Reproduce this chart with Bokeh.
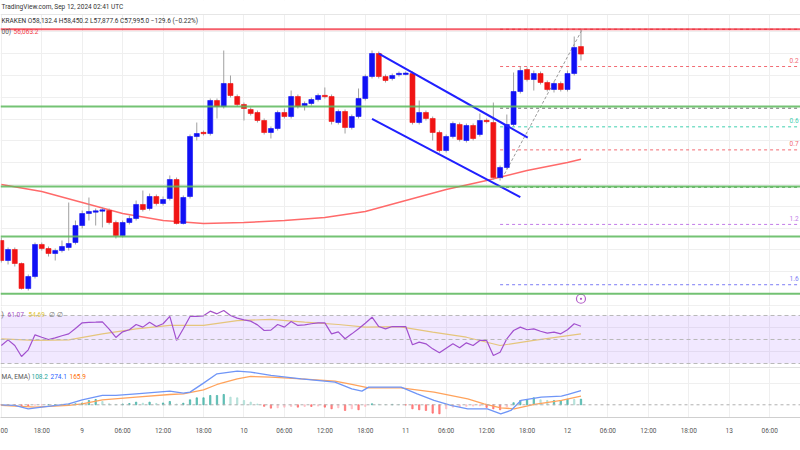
from bokeh.plotting import figure
from bokeh.layouts import column
from bokeh.models import Range1d, FixedTicker, Span, Label, BoxAnnotation, ColumnDataSource
from bokeh.core.properties import value
from bokeh.embed import file_html
from bokeh.resources import INLINE

# ---------------- data (hours from Sep 9 00:00 UTC, 1h candles) ----------------
hours = list(range(-12, 75))
opens = [54574, 54207, 54409, 54152, 53693, 53913, 54501, 54427, 54335, 54390, 54446, 54537,
         54849, 55069, 55097, 55115, 55124, 54904, 54666, 54904, 54978, 55235, 55161, 55381,
         55253, 55345, 55693, 54886, 55381, 56482, 56556, 56537, 57143, 57033, 57455, 57216,
         57070, 56978, 56923, 56776, 56556, 56629, 56923, 56849, 57216, 57051, 57088, 57161,
         57235, 57216, 56739, 56941, 56648, 56849, 57180, 57583, 58005, 57583, 57547, 57620,
         57629, 57638, 56739, 56923, 56813, 56556, 56225, 56482, 56703, 56409, 56684, 56519,
         56776, 56739, 55730, 55914, 56703, 57308, 57712, 57528, 57638, 57473, 57345, 57455,
         57345, 57638, 58132.4]
highs = [54629, 54446, 54446, 54170, 53950, 54537, 54537, 54464, 54427, 54574, 55271, 54941,
         55124, 55363, 55161, 55180, 55161, 54941, 54941, 55033, 55308, 55491, 55436, 55418,
         55381, 55767, 55730, 55400, 56519, 56739, 56592, 57180, 57180, 58060, 57602, 57253,
         57106, 57015, 56959, 56813, 56666, 56959, 56996, 57326, 57253, 57125, 57198, 57271,
         57382, 57253, 56978, 56978, 56886, 57363, 57620, 58060, 58042, 57620, 57638, 57675,
         57675, 57675, 57143, 56959, 56849, 56592, 56519, 56758, 56739, 56721, 56721, 56904,
         56813, 57106, 55950, 56886, 57657, 57767, 57749, 57693, 57675, 57510, 57492, 57492,
         57693, 58317, 58450.2]
lows = [54170, 54134, 54097, 53675, 53656, 53877, 54390, 54280, 54207, 54354, 54390, 54501,
        54794, 54941, 54849, 54813, 54868, 54611, 54629, 54868, 54941, 55106, 55124, 55216,
        55216, 55308, 54868, 54868, 55345, 56409, 56501, 56501, 56813, 56996, 57198, 57033,
        56776, 56868, 56739, 56519, 56446, 56592, 56813, 56813, 56996, 56959, 57051, 57125,
        57180, 56703, 56703, 56537, 56611, 56813, 57143, 57547, 57547, 57473, 57510, 57583,
        57602, 56703, 56703, 56776, 56409, 56189, 56189, 56446, 56391, 56372, 56409, 56482,
        56721, 55693, 55675, 55877, 56666, 57271, 57492, 57326, 57437, 57308, 57290, 57308,
        57308, 57602, 57877.6]
closes = [54207, 54409, 54152, 53693, 53913, 54501, 54427, 54335, 54390, 54464, 54519, 54849,
          55069, 55106, 55115, 55134, 54904, 54666, 54904, 54978, 55235, 55143, 55381, 55253,
          55326, 55693, 54886, 55363, 56482, 56537, 56537, 57143, 57033, 57455, 57235, 57070,
          56996, 56904, 56776, 56556, 56629, 56923, 56849, 57216, 57033, 57088, 57161, 57235,
          57216, 56758, 56941, 56648, 56849, 57180, 57583, 58005, 57583, 57510, 57602, 57638,
          57638, 56739, 56923, 56813, 56556, 56225, 56482, 56721, 56427, 56684, 56446, 56776,
          56758, 55730, 55914, 56703, 57308, 57693, 57528, 57638, 57473, 57345, 57455, 57345,
          57638, 58116, 57995.0]

sma_hours = [-12, -6, 0, 6, 12, 18, 24, 30, 36, 42, 48, 54, 60, 66, 72, 74]
sma_values = [55602, 55473, 55271, 55069, 54941, 54886, 54904, 54941, 54996, 55106,
              55308, 55510, 55675, 55859, 56005, 56063.2]

support_levels = [57033, 55565, 54648, 53596]
resistance_level = 58450.2

channel_upper_h = [44.0, 66.1]
channel_upper_p = [58005, 56464]
channel_lower_h = [43.0, 65.0]
channel_lower_p = [56807, 55369]

fib_high = 58450.2
fib_low = 55553
fib_start_h = 62
fib_levels = [0, 0.236, 0.5, 0.618, 0.764, 1, 1.236, 1.618]
fib_names = ["0", "0.2", "0.5", "0.6", "0.7", "1", "1.2", "1.6"]
fib_colors = ["#c62828", "#f26b73", "#6d6d6d", "#3fd0b0", "#f26b73", "#3c8f3c", "#c27ce8", "#7c7cf5"]
fib_label_shown = [False, True, False, True, True, False, True, True]
trend_h = [62.3, 74.2]
trend_p = [55712, 58450.2]

rsi_values = [45, 49.7, 45, 35.8, 41.4, 53.9, 51.9, 50, 51.4, 53.1, 54.7, 59.2,
              63.9, 64.2, 64.4, 64.7, 58.6, 51.7, 56.4, 58.1, 62.5, 60.3, 64.4, 60.8,
              63.1, 69.2, 49.2, 58.9, 69.2, 69.2, 69.7, 73.6, 71.4, 74.2, 70, 67.8,
              66.4, 65.3, 62.2, 57.5, 57.8, 62.5, 60.3, 65, 61.7, 62.2, 63.1, 63.9,
              63.9, 54.7, 56.4, 50.6, 54.7, 58.9, 63.6, 68.6, 60.8, 58.9, 60.8, 60.8,
              60.8, 45.6, 47.8, 46.4, 42.2, 38.9, 42.8, 46.4, 43.1, 47.2, 45, 49.2,
              49.2, 36.7, 39.4, 50.6, 57.5, 60.3, 58.1, 58.9, 56.9, 55.3, 56.1, 54.7,
              58.1, 63.1, 61.07]
rsi_ma_hours = [-12, -7, -2, 3, 8, 13, 18, 23, 28, 33, 38, 42, 47, 52, 57, 62, 67, 74]
rsi_ma_values = [50.6, 49.2, 49.7, 54.7, 58.9, 61.7, 61.7, 65.8, 66.7, 64.4, 62.5, 60.3,
                 60.8, 56.1, 51.9, 45, 49.2, 54.69]

macd_hours = [-12, -10, -8, -6, -2, 0, 3, 5, 8, 13, 15, 16, 18, 20, 23, 25, 28, 32.5, 37.5,
              40, 41.5, 42.5, 47.3, 49.7, 52.2, 54.7, 57.2, 60.1, 62.1, 63.6, 65.1, 68.1, 71.1,
              72.1, 74]
macd_values = [0, -13, -77, -45, 19, 96, 179, 179, 211, 262, 224, 243, 416, 595, 646, 627, 563,
               499, 435, 307, 262, 339, 339, 211, 83, -13, -77, -77, -173, -109, 83, 147, 166,
               198, 274.1]
signal_hours = [-12, -7, -2, 0, 3, 8, 13, 15, 18, 20, 23, 25, 28, 32.5, 37.5, 40, 42.5, 47.3,
                52.2, 57.2, 59.6, 62.1, 64.1, 67.1, 71.1, 74]
signal_values = [-13, -45, -13, 19, 96, 147, 198, 211, 288, 390, 499, 544, 531, 499, 454, 390,
                 326, 326, 243, 115, 19, -58, -77, 6, 83, 165.9]
hist_values = [-5, -8, -10, -15, -20, -8, -3, 3, 5, 8, 12, 20,
               35, 83, 102, 64, 20, 8, 15, 25, 51, 30, 51, 25, 35, 64, 15, 30, 96, 134, 134, 179,
               179, 198, 147, 134, 83, 51, 15, -30, -64, -58, -45, -32, -45, -32, -32, -25, -45,
               -77, -58, -109, -77, -96, -32, 20, 10, 5, 8, 5,
               -5, -77, -96, -109, -160, -173, -77, -45, -40, -30, -25, -20, -50, -77, -96, -40,
               40, 83, 102, 134, 96, 83, 83, 83, 109, 102, 108.2]

tick_hours = [-12, -6, 0, 6, 12, 18, 24, 30, 36, 42, 48, 54, 60, 66, 72, 78, 84, 90, 96, 102]
tick_labels = ["00", "18:00", "9", "06:00", "12:00", "18:00", "10", "06:00", "12:00", "18:00", "11",
               "06:00", "12:00", "18:00", "12", "06:00", "12:00", "18:00", "13", "06:00"]

price_grid = [53600, 54000, 54400, 54800, 55200, 55600, 56000, 56400, 56800, 57200, 57600,
              58000, 58400]

# ---------------- styling ----------------
FONT = "Roboto"
UP = "#1010f5"
DOWN = "#f01414"
GRID = "#efefef"
W = 800
xr = Range1d(-12.12, 106.57)
vgrid = list(range(-12, 108, 6))


def base(height, yr, bottom=0):
    f = figure(width=W, height=height, x_range=xr, y_range=yr, output_backend="svg",
               toolbar_location=None, min_border=0, min_border_bottom=bottom)
    f.outline_line_color = None
    f.yaxis.visible = False
    f.xgrid.ticker = FixedTicker(ticks=vgrid)
    f.xgrid.grid_line_color = GRID
    f.ygrid.grid_line_color = GRID
    f.background_fill_color = "white"
    return f


# ---------------- main price pane ----------------
p = base(306, Range1d(53363, 58978))
p.xaxis.visible = False
p.ygrid.ticker = FixedTicker(ticks=price_grid)

p.add_layout(BoxAnnotation(bottom=58721, fill_color="white", fill_alpha=1, line_alpha=0, level="glyph"))
p.add_layout(Span(location=58721, dimension="width", line_color="#e6e6e6", line_width=1))
p.add_layout(Span(location=53372, dimension="width", line_color="#e0e0e0", line_width=1))

for lv in support_levels:
    p.add_layout(Span(location=lv, dimension="width", line_color="#5cb85c", line_width=2, line_alpha=0.85))
p.add_layout(Span(location=resistance_level, dimension="width", line_color="#f23645",
                  line_width=2, line_alpha=0.8))

# fib retracement
fib_prices = [fib_high - lv * (fib_high - fib_low) for lv in fib_levels]
p.segment(x0=[fib_start_h] * len(fib_prices), x1=[110] * len(fib_prices), y0=fib_prices, y1=fib_prices,
          line_color=fib_colors, line_width=1, line_dash="3 3")
lab_x = [104.95 for s in fib_label_shown if s]
lab_y = [fp + 115 for fp, s in zip(fib_prices, fib_label_shown) if s]
lab_t = [n for n, s in zip(fib_names, fib_label_shown) if s]
lab_c = [c for c, s in zip(fib_colors, fib_label_shown) if s]
p.text(x=lab_x, y=lab_y, text=lab_t, text_color=lab_c, text_font=value(FONT),
       text_font_size=value("6.5px"), text_baseline="middle", text_align="left")
p.line(trend_h, trend_p, line_color="#9a9a9a", line_width=1, line_dash="3 2")

# SMA 100
p.line(sma_hours, sma_values, line_color="#ff5a5a", line_width=1.5, line_alpha=0.9)

# candles
colors, tops, bottoms = [], [], []
for o, c in zip(opens, closes):
    colors.append(UP if c >= o else DOWN)
    hi_b, lo_b = max(o, c), min(o, c)
    if hi_b - lo_b < 25:
        mid = (hi_b + lo_b) / 2
        hi_b, lo_b = mid + 12, mid - 12
    tops.append(hi_b)
    bottoms.append(lo_b)
src = ColumnDataSource(dict(h=hours, o=opens, hi=highs, lo=lows, c=closes,
                            top=tops, bottom=bottoms, color=colors))
p.segment(x0="h", y0="lo", x1="h", y1="hi", source=src, line_color="#a0a0a0", line_width=1)
p.vbar(x="h", width=0.74, top="top", bottom="bottom", source=src,
       fill_color="color", line_color="color", line_width=0.6)

# channel
p.line(channel_upper_h, channel_upper_p, line_color="#2020ff", line_width=2)
p.line(channel_lower_h, channel_lower_p, line_color="#2020ff", line_width=2)

# event marker
p.scatter(x=[hours[-1]], y=[53505], marker="circle_dot", size=9, fill_color="white",
          line_color="#b35cc7", line_width=1.2)

# header texts
p.add_layout(Label(x=1, y=58850, x_units="screen", text="TradingView.com, Sep 12, 2024 02:41 UTC",
                   text_font=FONT, text_font_size="6.5px", text_color="#333333", text_baseline="middle"))
p.add_layout(Label(x=1, y=58593, x_units="screen",
                   text="KRAKEN  O58,132.4  H58,450.2  L57,877.6  C57,995.0  \u2212129.6 (\u22120.22%)",
                   text_font=FONT, text_font_size="6.5px", text_color="#333333", text_baseline="middle"))
p.add_layout(Label(x=1, y=58409, x_units="screen", text="00)", text_font=FONT,
                   text_font_size="6.5px", text_color="#555555", text_baseline="middle"))
p.add_layout(Label(x=13, y=58409, x_units="screen", text="56,063.2", text_font=FONT,
                   text_font_size="6.5px", text_color="#f23645", text_baseline="middle"))

# ---------------- RSI pane ----------------
r = base(62, Range1d(25.83, 77.5))
r.xaxis.visible = False
r.ygrid.ticker = FixedTicker(ticks=[40, 60])
r.add_layout(BoxAnnotation(bottom=30, top=70, fill_color="#8e44ff", fill_alpha=0.12, line_alpha=0))
for lv in [70, 50, 30]:
    r.add_layout(Span(location=lv, dimension="width", line_color="#b9b9b9", line_width=1, line_dash="4 3"))
r.add_layout(Span(location=26.7, dimension="width", line_color="#e0e0e0", line_width=1))
r.line(rsi_ma_hours, rsi_ma_values, line_color="#f2d86a", line_width=1.2)
r.line(hours, rsi_values, line_color="#a552c8", line_width=1.2)
for txt, x, col in [(")", 1, "#555555"), ("61.07", 7, "#a552c8"), ("54.69", 28, "#e3c53a"),
                    ("\u2205", 48, "#777777"), ("\u2205", 56, "#777777")]:
    r.add_layout(Label(x=x, y=70.8, x_units="screen", text=txt, text_font=FONT,
                       text_font_size="6.5px", text_color=col, text_baseline="middle"))

# ---------------- MACD pane + time axis ----------------
m = base(82, Range1d(-244, 697), bottom=33)
m.ygrid.ticker = FixedTicker(ticks=[400])
m.add_layout(Span(location=0, dimension="width", line_color="#b0b0b0", line_width=1, line_dash="3 3"))
hist_colors = []
prev = 0
for v in hist_values:
    if v >= 0:
        hist_colors.append("#26a69a" if v >= prev else "#9ed8cf")
    else:
        hist_colors.append("#ff5252" if v <= prev else "#ffb3ba")
    prev = v
m.vbar(x=hours, width=0.2, top=hist_values, bottom=0, fill_color=hist_colors,
       line_color=hist_colors, fill_alpha=0.6, line_alpha=0.6)
m.line(signal_hours, signal_values, line_color="#ffa35c", line_width=1.3)
m.line(macd_hours, macd_values, line_color="#6f95f7", line_width=1.3)
for txt, x, col in [("MA, EMA)", 1, "#555555"), ("108.2", 31, "#26a69a"),
                    ("274.1", 50, "#2962ff"), ("165.9", 69, "#ff6d00")]:
    m.add_layout(Label(x=x, y=543, x_units="screen", text=txt, text_font=FONT,
                       text_font_size="6.5px", text_color=col, text_baseline="middle"))

ax = m.xaxis[0]
ax.ticker = FixedTicker(ticks=tick_hours)
ax.major_label_overrides = {h: t for h, t in zip(tick_hours, tick_labels)}
ax.axis_line_color = "#cfcfcf"
ax.major_tick_line_color = None
ax.minor_tick_line_color = None
ax.major_label_text_font = FONT
ax.major_label_text_font_size = "6.5px"
ax.major_label_text_color = "#555555"
ax.major_label_standoff = 3

layout = column(p, r, m, spacing=0)
open("out.html", "w").write(file_html(layout, INLINE))
